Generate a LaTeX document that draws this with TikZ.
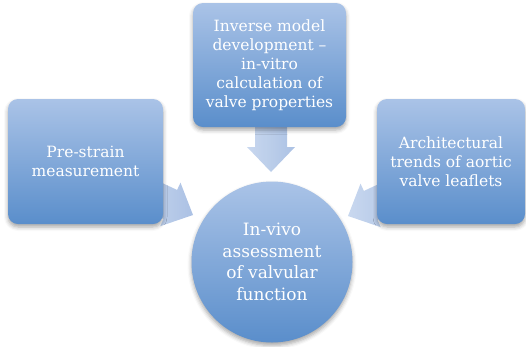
\documentclass[tikz,border=0pt]{standalone}
\usepackage{fontspec}
\setmainfont{DejaVu Serif}
\usetikzlibrary{shadows.blur}

\definecolor{boxtop}{HTML}{AAC3E7}
\definecolor{boxbot}{HTML}{5A8ECB}
\definecolor{arrtop}{HTML}{C6D6EE}
\definecolor{arrbot}{HTML}{A7BEE3}

\tikzset{
  panel/.style={
    rectangle, rounded corners=10pt, inner sep=2pt,
    top color=boxtop, bottom color=boxbot, draw=none,
    text=white, align=center,
    font=\fontsize{15.5pt}{19pt}\selectfont,
    blur shadow={shadow xshift=0pt, shadow yshift=-3pt,
                 shadow blur radius=4pt, shadow opacity=35}},
  hub/.style={
    circle, minimum size=161pt, inner sep=0pt,
    top color=boxtop, bottom color=boxbot, draw=none,
    text=white, align=center,
    font=\fontsize{17pt}{21.7pt}\selectfont,
    blur shadow={shadow xshift=0pt, shadow yshift=-3pt,
                 shadow blur radius=4pt, shadow opacity=35}},
  blockarrow/.style={
    draw=none, left color=arrtop, right color=arrbot, fill opacity=0.95},
  pics/fatarrow/.style={
    code={
      \path[blockarrow] (0,0) -- (-25,24) -- (-25,16) -- (-#1,16)
        -- (-#1,-16) -- (-25,-16) -- (-25,-24) -- cycle;
    }}
}

\begin{document}
\begin{tikzpicture}[x=1pt, y=-1pt]
  \useasboundingbox (0,0) rectangle (526,346);

  % block arrows converging on the central circle (drawn first, boxes overlap their tails)
  \pic[shift={(271,172)}, rotate=-90] {fatarrow=50};
  \pic[shift={(193,215)}, rotate=-25] {fatarrow=60};
  \pic[shift={(348,216)}, rotate=205] {fatarrow=60};

  % outer boxes
  \node[panel, minimum width=153pt, minimum height=124pt] (inverse) at (269.5,65)
    {Inverse model\\development –\\in-vitro\\calculation of\\valve properties};
  \node[panel, minimum width=155pt, minimum height=125pt] (prestrain) at (85.5,161.5)
    {Pre-strain\\measurement};
  \node[panel, minimum width=148pt, minimum height=125pt] (trends) at (451,161.5)
    {Architectural\\trends of aortic\\valve leaflets};

  % central circle
  \node[hub] (invivo) at (272,262)
    {In-vivo\\assessment\\of valvular\\function};
\end{tikzpicture}
\end{document}
